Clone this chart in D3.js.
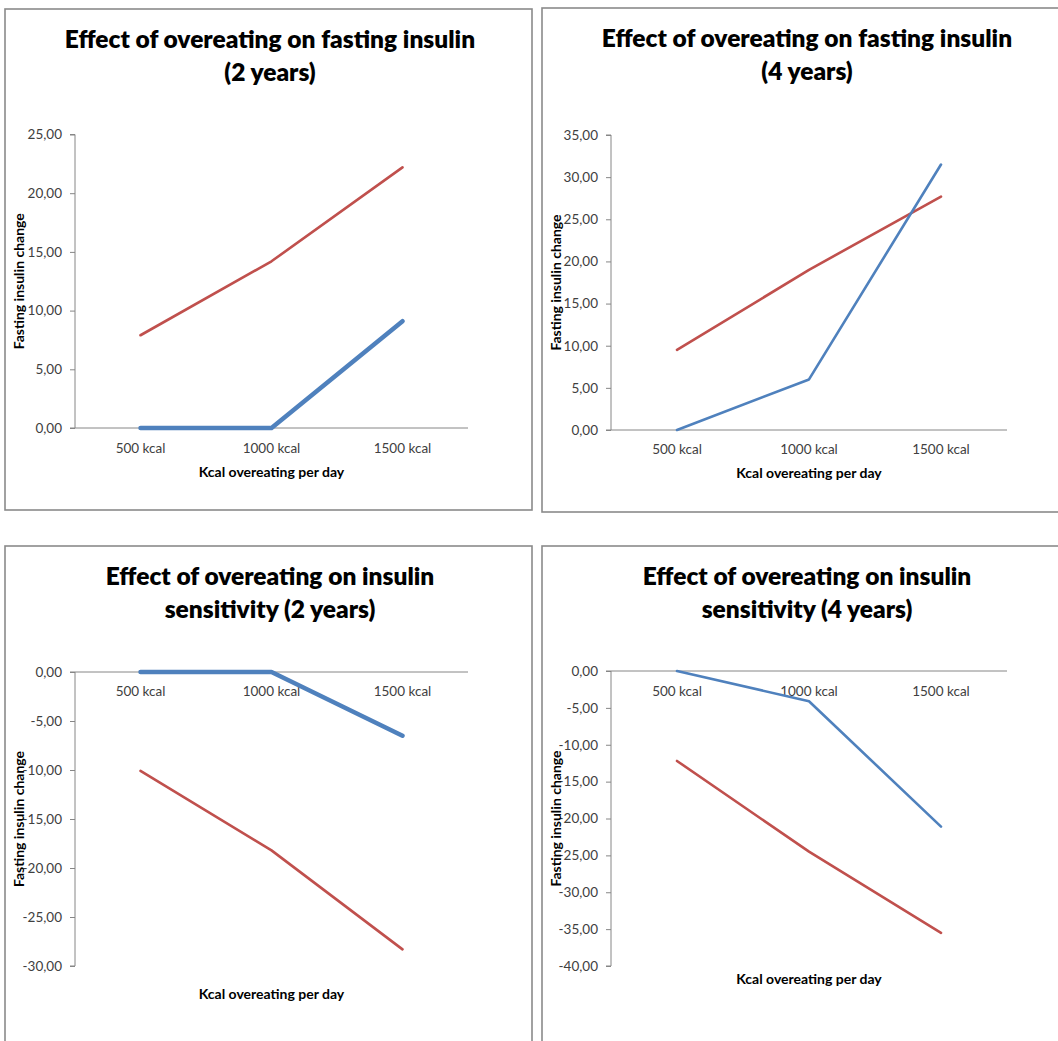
<!DOCTYPE html>
<html>
<head>
<meta charset="utf-8">
<script src="https://cdn.jsdelivr.net/npm/d3@7"></script>
<style>
  html, body { margin: 0; padding: 0; background: #ffffff; }
  svg { display: block; }
  text { font-family: Lato, "Open Sans", "Liberation Sans", sans-serif; }
</style>
</head>
<body>
<svg id="chart" width="1058" height="1041"></svg>
<script>
// ---------- data ----------
const categories = ["500 kcal", "1000 kcal", "1500 kcal"];

const insulin2yBlue = [0, 0, 9.1];
const insulin2yRed  = [7.9, 14.2, 22.2];
const insulin4yBlue = [0, 6.0, 31.5];
const insulin4yRed  = [9.5, 19.0, 27.7];
const sensitivity2yBlue = [0, 0, -6.5];
const sensitivity2yRed  = [-10.1, -18.2, -28.3];
const sensitivity4yBlue = [0, -4.1, -21.1];
const sensitivity4yRed  = [-12.2, -24.5, -35.5];

const ticksInsulin2y = [0, 5, 10, 15, 20, 25];
const ticksInsulin4y = [0, 5, 10, 15, 20, 25, 30, 35];
const ticksSens2y = [0, -5, -10, -15, -20, -25, -30];
const ticksSens4y = [0, -5, -10, -15, -20, -25, -30, -35, -40];

const titles = [
  ["Effect of overeating on fasting insulin", "(2 years)"],
  ["Effect of overeating on fasting insulin", "(4 years)"],
  ["Effect of overeating on insulin", "sensitivity (2 years)"],
  ["Effect of overeating on insulin", "sensitivity (4 years)"]
];
const xAxisTitle = "Kcal overeating per day";
const yAxisTitle = "Fasting insulin change";

// ---------- layout ----------
const BLUE = "#4f81bd", RED = "#c0504d";
const panels = [
  { frame: [5, 9, 527, 501], plot: [75, 468, 134.5, 428], domain: [0, 25], ticks: ticksInsulin2y,
    blue: insulin2yBlue, red: insulin2yRed, blueW: 4.5, title: titles[0], titleX: 270, titleY: [38, 71],
    xTitleY: 471, yTitleX: 18, catY: 448 },
  { frame: [542, 8, 530, 504], plot: [611, 1007, 135, 430], domain: [0, 35], ticks: ticksInsulin4y,
    blue: insulin4yBlue, red: insulin4yRed, blueW: 2.6, title: titles[1], titleX: 807, titleY: [37, 70],
    xTitleY: 472, yTitleX: 555, catY: 449 },
  { frame: [5, 546, 527, 520], plot: [75, 468, 672, 966], domain: [-30, 0], ticks: ticksSens2y,
    blue: sensitivity2yBlue, red: sensitivity2yRed, blueW: 4.5, title: titles[2], titleX: 270, titleY: [575, 608],
    xTitleY: 993, yTitleX: 18, catY: 691 },
  { frame: [542, 546, 530, 520], plot: [611, 1007, 671, 966], domain: [-40, 0], ticks: ticksSens4y,
    blue: sensitivity4yBlue, red: sensitivity4yRed, blueW: 2.6, title: titles[3], titleX: 807, titleY: [575, 608],
    xTitleY: 978, yTitleX: 555, catY: 691 }
];

const svg = d3.select("#chart");
const fmt = v => d3.format(".2f")(v).replace(".", ",").replace("−", "-");

panels.forEach(p => {
  const g = svg.append("g");
  const [fx, fy, fw, fh] = p.frame;
  g.append("rect").attr("x", fx).attr("y", fy).attr("width", fw).attr("height", fh)
    .attr("fill", "#fff").attr("stroke", "#8a8a8a").attr("stroke-width", 1.6);

  const [l, r, t, b] = p.plot;
  const x = d3.scaleBand().domain(categories).range([l, r]);
  const y = d3.scaleLinear().domain(p.domain).range([b, t]);

  // title
  p.title.forEach((line, i) => {
    g.append("text").attr("x", p.titleX).attr("y", p.titleY[i])
      .attr("text-anchor", "middle").attr("dominant-baseline", "central")
      .attr("font-size", 24.5).attr("font-weight", 800).attr("fill", "#000")
      .text(line);
  });

  // y axis
  const yAxis = d3.axisLeft(y).tickValues(p.ticks).tickFormat(fmt).tickSize(5).tickPadding(8);
  const ya = g.append("g").attr("transform", `translate(${l},0)`).call(yAxis);
  ya.select(".domain").attr("stroke", "#868686").attr("d", `M-5,${y(p.domain[1])}H0V${y(p.domain[0])}H-5`);
  ya.selectAll(".tick line").attr("stroke", "#868686");
  ya.selectAll(".tick text").attr("font-size", 13.5).attr("fill", "#404040")
    .style("font-family", "Lato, 'Open Sans', sans-serif");

  // x axis at zero
  const xAxis = d3.axisBottom(x).tickSize(0).tickPadding(0);
  const xa = g.append("g").attr("transform", `translate(0,${y(0)})`).call(xAxis);
  xa.select(".domain").attr("stroke", "#868686").attr("d", `M${l},0H${r}`);
  xa.selectAll(".tick text").attr("font-size", 13.5).attr("fill", "#404040")
    .attr("dy", null).attr("y", p.catY - y(0)).attr("dominant-baseline", "central");

  // axis titles
  g.append("text").attr("x", (l + r) / 2).attr("y", p.xTitleY)
    .attr("text-anchor", "middle").attr("dominant-baseline", "central")
    .attr("font-size", 14).attr("font-weight", 700).attr("fill", "#000").text(xAxisTitle);
  g.append("text")
    .attr("transform", `translate(${p.yTitleX},${(t + b) / 2}) rotate(-90)`)
    .attr("text-anchor", "middle").attr("dominant-baseline", "central")
    .attr("font-size", 14).attr("font-weight", 700).attr("fill", "#000").text(yAxisTitle);

  // lines
  const line = d3.line().x((d, i) => x(categories[i]) + x.bandwidth() / 2).y(d => y(d));
  g.append("path").datum(p.red).attr("d", line).attr("fill", "none")
    .attr("stroke", RED).attr("stroke-width", 2.6).attr("stroke-linejoin", "round").attr("stroke-linecap", "round");
  g.append("path").datum(p.blue).attr("d", line).attr("fill", "none")
    .attr("stroke", BLUE).attr("stroke-width", p.blueW).attr("stroke-linejoin", "round").attr("stroke-linecap", "round");
});
</script>
</body>
</html>
